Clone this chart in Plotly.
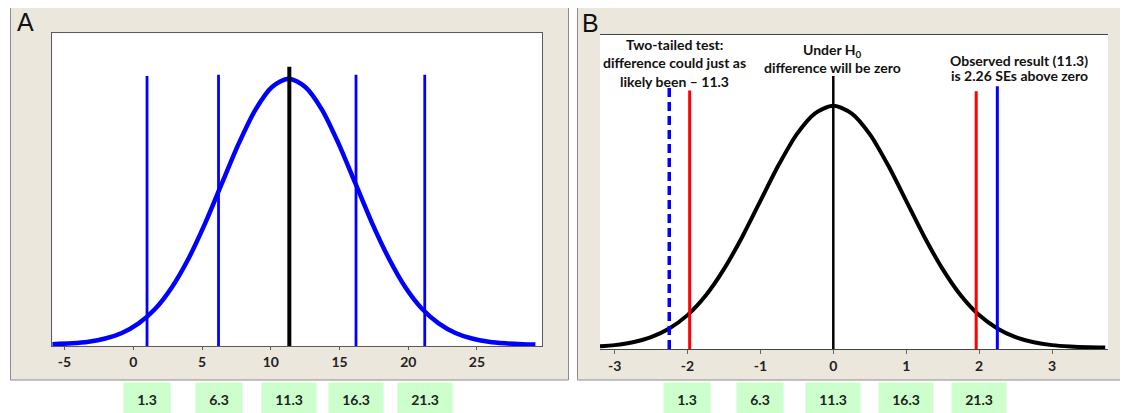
import plotly.graph_objects as go

# ---------------- data ----------------
a_ticks = [-5, 0, 5, 10, 15, 20, 25]
b_ticks = [-3, -2, -1, 0, 1, 2, 3]

# panel A sampling distribution (relative height, peak = 1)
a_curve_x = [-5.9, -4.46, -3.25, -2.04, -0.83, 0.39, 1.6, 2.81, 4.03, 5.24, 6.45, 7.66, 8.88, 10.09,
             11.3, 12.51, 13.73, 14.94, 16.15, 17.36, 18.58, 19.79, 21.0, 22.21, 23.43, 24.64, 25.85,
             27.06, 28.28, 29.25]
a_curve_y = [0.002, 0.005, 0.011, 0.023, 0.044, 0.080, 0.135, 0.216, 0.325, 0.458, 0.607, 0.755, 0.883, 0.969,
             1.0, 0.969, 0.883, 0.755, 0.607, 0.458, 0.325, 0.216, 0.135, 0.080, 0.044, 0.023, 0.011,
             0.005, 0.002, 0.001]

# panel A vertical lines
a_line_x = [1.0, 6.2, 16.2, 21.2]
a_line_top = [1.01, 1.015, 1.015, 1.015]
a_mean_x = 11.35
a_mean_top = 1.045

# panel B null distribution (SE units)
b_curve_x = [-3.2, -3.0, -2.75, -2.5, -2.25, -2.0, -1.75, -1.5, -1.25, -1.0, -0.75, -0.5, -0.25,
             0.0, 0.25, 0.5, 0.75, 1.0, 1.25, 1.5, 1.75, 2.0, 2.25, 2.5, 2.75, 3.0, 3.25, 3.5, 3.73]
b_curve_y = [0.006, 0.011, 0.023, 0.044, 0.080, 0.135, 0.216, 0.325, 0.458, 0.607, 0.755, 0.883, 0.969,
             1.0, 0.969, 0.883, 0.755, 0.607, 0.458, 0.325, 0.216, 0.135, 0.080, 0.044, 0.023, 0.011,
             0.005, 0.002, 0.001]

b_zero_x = 0.0
b_zero_top = 1.123
b_crit_x = [-1.97, 1.96]
b_crit_top = [1.063, 1.06]
b_obs_x = 2.25
b_obs_top = 1.081
b_mirror_x = -2.25
b_mirror_top = 1.074

box_labels = ["1.3", "6.3", "11.3", "16.3", "21.3"]
a_box_x = [1.0, 6.2, 11.3, 16.2, 21.2]
b_box_x = [-2, -1, 0, 1, 2]

# ---------------- layout helpers ----------------
OFF = 8  # page body margin
W, H = 1128 - OFF, 413 - OFF


def fx(p):
    return (p - OFF) / W


def fy(p):
    return 1 - (p - OFF) / H


BLUE = "#0000ff"
RED = "#ff0000"
BLACK = "#000000"
BEIGE = "#ece7dc"
GREEN = "#ccffcc"
FONT = "Lato"

fig = go.Figure()

# A curve
fig.add_trace(go.Scatter(x=a_curve_x, y=a_curve_y, mode="lines",
                         line=dict(color=BLUE, width=4.5, shape="spline", smoothing=0.8),
                         xaxis="x", yaxis="y", hoverinfo="skip", showlegend=False))
for xv, top in zip(a_line_x, a_line_top):
    fig.add_trace(go.Scatter(x=[xv, xv], y=[-0.005, top], mode="lines",
                             line=dict(color=BLUE, width=2.8),
                             xaxis="x", yaxis="y", hoverinfo="skip", showlegend=False))
fig.add_trace(go.Scatter(x=[a_mean_x, a_mean_x], y=[-0.005, a_mean_top], mode="lines",
                         line=dict(color=BLACK, width=4),
                         xaxis="x", yaxis="y", hoverinfo="skip", showlegend=False))

# B curve
fig.add_trace(go.Scatter(x=b_curve_x, y=b_curve_y, mode="lines",
                         line=dict(color=BLACK, width=4, shape="spline", smoothing=0.8),
                         xaxis="x2", yaxis="y2", hoverinfo="skip", showlegend=False))
fig.add_trace(go.Scatter(x=[b_zero_x, b_zero_x], y=[-0.005, b_zero_top], mode="lines",
                         line=dict(color=BLACK, width=2.5),
                         xaxis="x2", yaxis="y2", hoverinfo="skip", showlegend=False))
for xv, top in zip(b_crit_x, b_crit_top):
    fig.add_trace(go.Scatter(x=[xv, xv], y=[-0.005, top], mode="lines",
                             line=dict(color=RED, width=3),
                             xaxis="x2", yaxis="y2", hoverinfo="skip", showlegend=False))
fig.add_trace(go.Scatter(x=[b_obs_x, b_obs_x], y=[-0.005, b_obs_top], mode="lines",
                         line=dict(color=BLUE, width=3),
                         xaxis="x2", yaxis="y2", hoverinfo="skip", showlegend=False))
fig.add_trace(go.Scatter(x=[b_mirror_x, b_mirror_x], y=[-0.005, b_mirror_top], mode="lines",
                         line=dict(color=BLUE, width=3.5, dash="9px,5px"),
                         xaxis="x2", yaxis="y2", hoverinfo="skip", showlegend=False))

shapes = [
    # beige frames
    dict(type="rect", xref="paper", yref="paper", x0=fx(10.5), x1=fx(568.5), y0=fy(380), y1=fy(7.5),
         fillcolor=BEIGE, line=dict(color="#8c8c8c", width=1), layer="below"),
    dict(type="rect", xref="paper", yref="paper", x0=fx(577.5), x1=fx(1140), y0=fy(380), y1=fy(7.5),
         fillcolor=BEIGE, line=dict(color="#8c8c8c", width=1), layer="below"),
    # white plot areas
    dict(type="rect", xref="paper", yref="paper", x0=fx(52.3), x1=fx(542.3), y0=fy(346), y1=fy(33.3),
         fillcolor="white", line=dict(width=0), layer="below"),
    dict(type="rect", xref="paper", yref="paper", x0=fx(600), x1=fx(1108), y0=fy(349), y1=fy(35),
         fillcolor="white", line=dict(width=0), layer="below"),
]

annotations = []
# panel letters
annotations.append(dict(text="A", xref="paper", yref="paper", x=fx(25), y=fy(22),
                        xanchor="center", yanchor="middle", showarrow=False,
                        font=dict(family="Liberation Sans", size=25, color="#111")))
annotations.append(dict(text="B", xref="paper", yref="paper", x=fx(590), y=fy(23),
                        xanchor="center", yanchor="middle", showarrow=False,
                        font=dict(family="Liberation Sans", size=25, color="#111")))

# panel B text
txt_font = dict(family=FONT, size=14, color="#111", weight="bold")
text_lines = [
    ("Two-tailed test:", 674, 45),
    ("difference could just as", 674, 63),
    ("likely been \u2013 11.3", 674, 81),
    ("Under H<sub>0</sub>", 832, 50),
    ("difference will be zero", 832, 67),
    ("Observed result (11.3)", 1019, 60),
    ("is 2.26 SEs above zero", 1019, 76),
]
for t, px, py in text_lines:
    annotations.append(dict(text=t, xref="paper", yref="paper", x=fx(px), y=fy(py),
                            xanchor="center", yanchor="middle", showarrow=False, font=txt_font))

# green label boxes
box_font = dict(family=FONT, size=14, color="#222", weight="bold")
for ref, xs in (("x", a_box_x), ("x2", b_box_x)):
    for lab, xv in zip(box_labels, xs):
        annotations.append(dict(text=lab, xref=ref, yref="paper", x=xv, y=fy(399),
                                xanchor="center", yanchor="middle", showarrow=False,
                                width=46 if len(lab) == 3 else 54, height=32,
                                bgcolor=GREEN, borderpad=0, font=box_font))

tick_font = dict(family=FONT, size=14, color="#222", weight="bold")

fig.update_layout(
    width=W, height=H,
    margin=dict(l=0, r=0, t=0, b=0),
    paper_bgcolor="white",
    plot_bgcolor="rgba(0,0,0,0)",
    showlegend=False,
    shapes=shapes,
    annotations=annotations,
    xaxis=dict(domain=[fx(52.3), fx(542.3)], range=[-5.89, 29.75],
               tickvals=a_ticks, ticktext=[str(v) for v in a_ticks],
               showline=True, mirror=True, linecolor="#5a5a5a", linewidth=1,
               ticks="outside", ticklen=3, tickcolor="#5a5a5a",
               showgrid=False, zeroline=False, tickfont=tick_font, fixedrange=True),
    yaxis=dict(domain=[fy(346), fy(33.3)], range=[-0.005, 1.1706],
               showline=True, mirror=True, linecolor="#5a5a5a", linewidth=1,
               showticklabels=False, ticks="", showgrid=False, zeroline=False, fixedrange=True),
    xaxis2=dict(domain=[fx(600), fx(1108)], range=[-3.20, 3.768], anchor="y2",
                tickvals=b_ticks, ticktext=[str(v) for v in b_ticks],
                showline=True, mirror=True, linecolor="#444", linewidth=1,
                ticks="outside", ticklen=4, tickcolor="#666",
                showgrid=False, zeroline=False, tickfont=tick_font, fixedrange=True),
    yaxis2=dict(domain=[fy(349), fy(35)], range=[-0.005, 1.2925], anchor="x2",
                showline=False, showticklabels=False, ticks="", showgrid=False,
                zeroline=False, fixedrange=True),
)

fig.write_html("out.html")
